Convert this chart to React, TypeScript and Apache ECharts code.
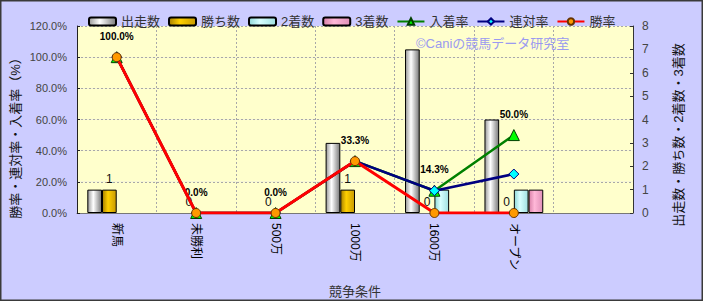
import React, { useEffect, useRef } from "react";
import * as echarts from "echarts";

const categories = ["新馬", "未勝利", "500万", "1000万", "1600万", "オープン", ""];
const starts = [1, 0, 0, 3, 7, 4, null];
const wins = [1, 0, 0, 1, 0, 0, null];
const seconds = [0, 0, 0, 0, 1, 1, null];
const thirds = [0, 0, 0, 0, 0, 1, null];
const placeRate = [100, 0, 0, 33.3, 14.3, 50, null];
const rentaiRate = [100, 0, 0, 33.3, 14.3, 25, null];
const winRate = [100, 0, 0, 33.3, 0, 0, null];
const leftTicks = { min: 0, max: 120, interval: 20 };
const rightTicks = { min: 0, max: 8, interval: 1 };

const FONT = "'Liberation Sans', 'Noto Sans CJK JP', sans-serif";

const grad = (a: string, b: string, c: string) =>
  new echarts.graphic.LinearGradient(0, 0, 1, 0, [
    { offset: 0, color: a },
    { offset: 0.4, color: b },
    { offset: 1, color: c },
  ]);

// zero-height bars: keep the value (for labels) but hide the outline
const barData = (arr: (number | null)[]) =>
  arr.map((v) => (v === 0 ? { value: 0, itemStyle: { borderWidth: 0, opacity: 0 } } : v));

export default function App() {
  const ref = useRef<HTMLDivElement>(null);
  useEffect(() => {
    document.body.style.margin = "0";
    const chart = echarts.init(ref.current!, null, { renderer: "svg" });
    const barBase = {
      type: "bar",
      yAxisIndex: 1,
      barWidth: 14.7,
      barGap: "0%",
    };
    chart.setOption({
      animation: false,
      backgroundColor: "#CCCCFF",
      textStyle: { fontFamily: FONT },
      grid: { left: 77, top: 26, right: 70, bottom: 88, outerBoundsMode: "none", containLabel: false },
      legend: {
        top: 10,
        left: 83,
        itemWidth: 27,
        itemHeight: 8,
        itemGap: 8,
        textStyle: { fontSize: 13, color: "#333", fontFamily: FONT },
        data: ["出走数", "勝ち数", "2着数", "3着数", "入着率", "連対率", "勝率"],
      },
      graphic: [
        {
          type: "rect",
          shape: { x: 0.75, y: 0.75, width: 701.5, height: 299.5 },
          style: { fill: "none", stroke: "#3a3a3a", lineWidth: 1.5 },
          silent: true,
          z: 100,
        },
        {
          type: "text",
          x: 416,
          y: 43,
          style: {
            text: "©Caniの競馬データ研究室",
            fill: "#9a9af0",
            font: `13px ${FONT}`,
            verticalAlign: "middle",
          },
          z: 50,
        },
        {
          type: "text",
          x: 15,
          y: 135,
          rotation: Math.PI / 2,
          style: {
            text: "勝率・連対率・入着率（%）",
            fill: "#111",
            font: `13px ${FONT}`,
            align: "center",
            verticalAlign: "middle",
          },
        },
        {
          type: "text",
          x: 678,
          y: 135,
          rotation: Math.PI / 2,
          style: {
            text: "出走数・勝ち数・2着数・3着数",
            fill: "#111",
            font: `13px ${FONT}`,
            align: "center",
            verticalAlign: "middle",
          },
        },
      ],
      xAxis: {
        type: "category",
        data: categories,
        name: "競争条件",
        nameLocation: "middle",
        nameGap: 72,
        nameTextStyle: { fontSize: 13, color: "#333" },
        axisLine: { lineStyle: { color: "#777", width: 1 } },
        axisTick: { show: false },
        axisLabel: { rotate: -90, margin: 10, fontSize: 12, color: "#000", interval: 0 },
        splitLine: { show: true, interval: 0, lineStyle: { type: [2, 2], color: "#a8a8a8" } },
      },
      yAxis: [
        {
          type: "value",
          ...leftTicks,
          axisLine: { show: true, lineStyle: { color: "#222" } },
          axisTick: { show: true, inside: true, length: 3, lineStyle: { color: "#222" } },
          axisLabel: {
            margin: 10,
            fontSize: 11,
            color: "#444",
            formatter: (v: number) => v.toFixed(1) + "%",
          },
          splitLine: { show: true, lineStyle: { type: [2, 2], color: "#a8a8a8" } },
          splitArea: { show: true, areaStyle: { color: ["#FFFFCC", "#FFFFCC"] } },
        },
        {
          type: "value",
          position: "right",
          ...rightTicks,
          axisLine: { show: true, lineStyle: { color: "#333" } },
          axisTick: { show: true, inside: true, length: 3, lineStyle: { color: "#333" } },
          axisLabel: { margin: 9, fontSize: 12, color: "#444" },
          splitLine: { show: false },
        },
      ],
      series: [
        {
          ...barBase,
          name: "出走数",
          data: barData(starts),
          itemStyle: { color: grad("#9a9a9a", "#ffffff", "#7a7a7a"), borderColor: "#000", borderWidth: 1 },
        },
        {
          ...barBase,
          name: "勝ち数",
          data: wins.map((v) => (v === 0 ? { value: 0, itemStyle: { borderWidth: 0 } } : v)),
          itemStyle: { color: grad("#a88000", "#ffd000", "#c89a00"), borderColor: "#000", borderWidth: 1 },
          label: { show: true, position: "top", distance: 5, fontSize: 12, color: "#111" },
        },
        {
          ...barBase,
          name: "2着数",
          data: barData(seconds),
          itemStyle: { color: grad("#90d8d8", "#d8ffff", "#a0e0e0"), borderColor: "#000", borderWidth: 1 },
        },
        {
          ...barBase,
          name: "3着数",
          data: barData(thirds),
          itemStyle: { color: grad("#d880a8", "#ffb8d8", "#e090b8"), borderColor: "#000", borderWidth: 1 },
        },
        {
          type: "line",
          name: "入着率",
          yAxisIndex: 0,
          data: placeRate,
          lineStyle: { color: "#008000", width: 2.5 },
          itemStyle: { color: "#00ff00", borderColor: "#004000", borderWidth: 1 },
          symbol: "triangle",
          symbolSize: 11,
          label: {
            show: true,
            position: "top",
            distance: 10,
            fontSize: 10,
            fontWeight: "bold",
            color: "#000",
            formatter: (p: any) => Number(p.value).toFixed(1) + "%",
          },
          z: 3,
        },
        {
          type: "line",
          name: "連対率",
          yAxisIndex: 0,
          data: rentaiRate,
          lineStyle: { color: "#000080", width: 2.5 },
          itemStyle: { color: "#00ffff", borderColor: "#000080", borderWidth: 1 },
          symbol: "diamond",
          symbolSize: 10,
          z: 4,
        },
        {
          type: "line",
          name: "勝率",
          yAxisIndex: 0,
          data: winRate,
          lineStyle: { color: "#ff0000", width: 3 },
          itemStyle: { color: "#ff9900", borderColor: "#663300", borderWidth: 1 },
          symbol: "circle",
          symbolSize: 9,
          z: 5,
        },
      ],
    });
    return () => chart.dispose();
  }, []);
  return <div ref={ref} style={{ width: 703, height: 301 }} />;
}
